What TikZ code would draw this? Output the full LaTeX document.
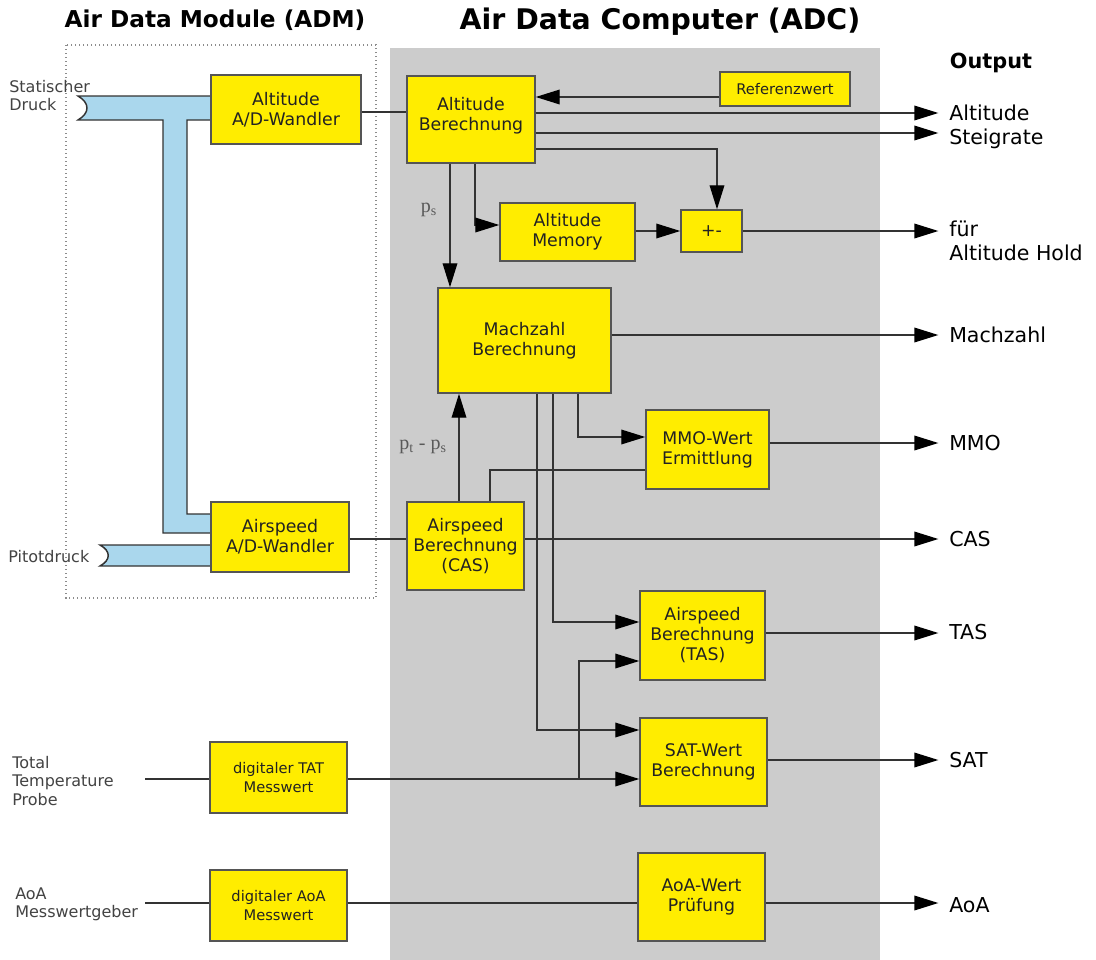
\documentclass[tikz,border=0pt]{standalone}
\usepackage{fontspec}
\setmainfont{DejaVu Sans}
\newfontfamily\serifp{Liberation Serif}
\usetikzlibrary{arrows.meta}
\definecolor{boxyellow}{RGB}{255,237,0}
\definecolor{adcgray}{RGB}{204,204,204}
\definecolor{pipeblue}{RGB}{170,215,237}
\definecolor{linegray}{RGB}{51,51,51}
\definecolor{bordergray}{RGB}{85,85,85}
\definecolor{txt}{RGB}{34,34,34}
\begin{document}
\begin{tikzpicture}[x=0.75pt,y=-0.75pt,
 blk/.style={draw=bordergray,line width=1.1pt,fill=boxyellow,inner sep=0pt,align=center,text=txt,font=\fontsize{13}{15}\selectfont},
 smallblk/.style={blk,font=\fontsize{11}{14}\selectfont},
 sz/.style n args={2}{minimum width={#1*0.75pt},minimum height={#2*0.75pt}},
 con/.style={draw=linegray,line width=1pt},
 arr/.style={con,-{Triangle[length=18pt,width=11pt,black]}},
 outlbl/.style={anchor=west,inner sep=0pt,font=\fontsize{15.4}{18}\selectfont,text=black,align=left},
 inlbl/.style={anchor=west,inner sep=0pt,font=\fontsize{12}{13.5}\selectfont,text=txt!85!white,align=left},
 pipe/.style={fill=pipeblue,draw=linegray,line width=1.1pt,line join=miter},
 plbl/.style={inner sep=0pt,font=\serifp\fontsize{15}{15}\selectfont,text=txt!75!white},
]
\useasboundingbox[fill=white] (0,0) rectangle (1096,960);

% regions
\fill[adcgray] (390,48) rectangle (880,960);
\draw[dotted,draw=black!45,line width=1pt] (66,45) rectangle (376,598);

% titles
\node[font=\bfseries\fontsize{17.4}{20}\selectfont] (tADM) at (215,20) {Air Data Module (ADM)};
\node[font=\bfseries\fontsize{21.3}{24}\selectfont] (tADC) at (660,22) {Air Data Computer (ADC)};
\node[font=\bfseries\fontsize{15.6}{18}\selectfont] (tOut) at (991,63) {Output};

% pipes
\path[pipe] (78,96) -- (211,96) -- (211,120) -- (187,120) -- (187,514) -- (211,514)
  -- (211,533) -- (163,533) -- (163,120) -- (78,120)
  .. controls (90,113) and (90,103) .. cycle;
\path[pipe] (100,545) -- (211,545) -- (211,566) -- (100,566)
  .. controls (111,560) and (111,551) .. cycle;

% blocks
\node[blk, sz={150}{69}] (adA) at (286,109.5) {Altitude\\A/D-Wandler};
\node[blk, sz={138}{70}] (adS) at (280,537) {Airspeed\\A/D-Wandler};
\node[blk, sz={128}{87}] (altB) at (471,119.5) {Altitude\\Berechnung\\[-7pt]\mbox{}};
\node[smallblk, sz={130}{34}] (ref) at (785,89) {Referenzwert};
\node[blk, sz={135}{58}] (mem) at (567.5,232) {Altitude\\Memory};
\node[blk, sz={61}{42}] (pm) at (711.5,231) {+-};
\node[blk, sz={173}{105}] (mach) at (524.5,340.5) {Machzahl\\Berechnung};
\node[blk, sz={123}{79}] (mmo) at (707.5,449.5) {MMO-Wert\\Ermittlung};
\node[blk, sz={117}{88}] (cas) at (465.5,546) {Airspeed\\Berechnung\\(CAS)};
\node[blk, sz={125}{89}] (tas) at (702.5,635.5) {Airspeed\\Berechnung\\(TAS)};
\node[blk, sz={127}{88}] (sat) at (703.5,762) {SAT-Wert\\Berechnung};
\node[smallblk, sz={137}{71}] (tat) at (278.5,777.5) {digitaler TAT\\Messwert};
\node[smallblk, sz={137}{71}] (aoa) at (278.5,905.5) {digitaler AoA\\Messwert};
\node[blk, sz={127}{88}] (aoaP) at (701.5,897) {AoA-Wert\\Prüfung};

% input labels
\node[inlbl] (lStat) at (9,96) {Statischer\\Druck};
\node[inlbl] (lPitot) at (8,557) {Pitotdruck};
\node[inlbl, font=\fontsize{12}{14}\selectfont] (lTAT) at (12,781) {Total\\Temperature\\Probe};
\node[inlbl] (lAoA) at (15,904) {AoA\\Messwertgeber};
\coordinate (tatIn) at (145,779);
\coordinate (aoaIn) at (145,903);

% output labels
\node[outlbl] (oAlt) at (949,113) {Altitude};
\node[outlbl] (oSteig) at (949,139) {Steigrate};
\node[outlbl] (oHold) at (949,241) {für\\Altitude Hold};
\node[outlbl] (oMach) at (949,335) {Machzahl};
\node[outlbl] (oMMO) at (949,443) {MMO};
\node[outlbl] (oCAS) at (949,539) {CAS};
\node[outlbl] (oTAS) at (949,632) {TAS};
\node[outlbl] (oSAT) at (949,760) {SAT};
\node[outlbl] (oAoA) at (949,905) {AoA};

% p labels
\node[plbl] (lps) at (429,210) {p\textsubscript{s}};
\node[plbl] (lpt) at (423,447) {p\textsubscript{t} - p\textsubscript{s}};

% connectors
\draw[con] (adA.east |- 0,112) -- (altB.west |- 0,112);
\draw[arr] (ref.west |- 0,97) -- (altB.east |- 0,97);
\draw[arr] (altB.east |- 0,113) -- ([xshift=-8pt]oAlt.west |- 0,113);
\draw[arr] (altB.east |- 0,133) -- ([xshift=-8pt]oSteig.west |- 0,133);
\draw[arr] (altB.east |- 0,149) -| (717,0 |- pm.north);
\draw[arr] (450,0 |- altB.south) -- (450,0 |- mach.north);
\draw[arr] (475,0 |- altB.south) |- (mem.west |- 0,225);
\draw[arr] (mem.east |- pm.west) -- (pm.west);
\draw[arr] (pm.east) -- ([xshift=-8pt]oHold.west |- pm.east);
\draw[arr] (mach.east |- 0,335) -- ([xshift=-8pt]oMach.west |- 0,335);
\draw[arr] (578,0 |- mach.south) |- (mmo.west |- 0,437);
\draw[arr] (mmo.east |- 0,443) -- ([xshift=-8pt]oMMO.west |- 0,443);
\draw[con] (490,0 |- cas.north) |- (mmo.west |- 0,470);
\draw[arr] (459,0 |- cas.north) -- (459,0 |- mach.south);
\draw[con] (adS.east |- 0,539) -- (cas.west |- 0,539);
\draw[arr] (cas.east |- 0,539) -- ([xshift=-8pt]oCAS.west |- 0,539);
\draw[arr] (553,0 |- mach.south) |- (tas.west |- 0,622);
\draw[arr] (537,0 |- mach.south) |- (sat.west |- 0,730);
\draw[con] (tatIn) -- (tat.west |- tatIn);
\draw[arr] (tat.east |- tatIn) -- (sat.west |- tatIn);
\coordinate (j) at (579,779);
\draw[arr] (j) |- (tas.west |- 0,661);
\draw[arr] (tas.east |- 0,633) -- ([xshift=-8pt]oTAS.west |- 0,633);
\draw[arr] (sat.east |- 0,760) -- ([xshift=-8pt]oSAT.west |- 0,760);
\draw[con] (aoaIn) -- (aoa.west |- aoaIn);
\draw[con] (aoa.east |- aoaIn) -- (aoaP.west |- aoaIn);
\draw[arr] (aoaP.east |- aoaIn) -- ([xshift=-8pt]oAoA.west |- aoaIn);
\end{tikzpicture}
\end{document}
